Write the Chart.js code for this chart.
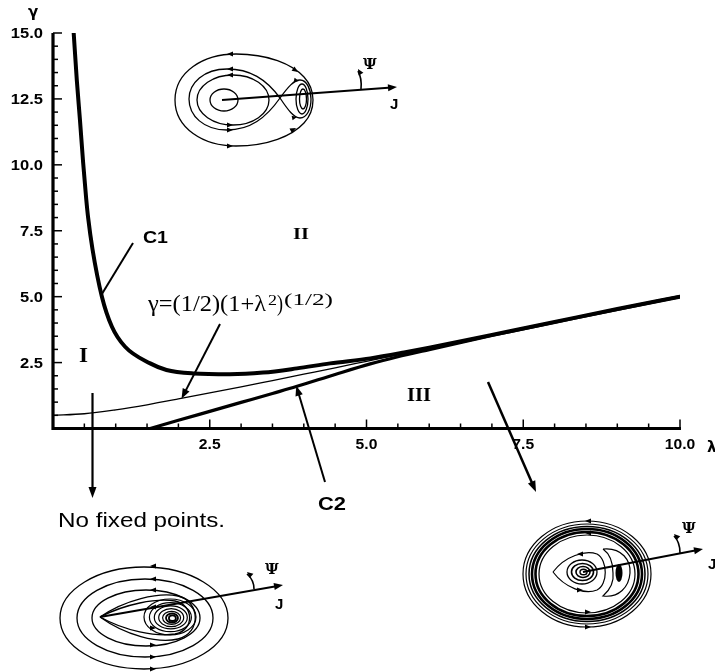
<!DOCTYPE html>
<html>
<head>
<meta charset="utf-8">
<script src="https://cdn.jsdelivr.net/npm/chart.js@4.4.1/dist/chart.umd.min.js"></script>
<style>
  html, body { margin: 0; padding: 0; background: #fff; }
  #wrap { width: 715px; height: 672px; }
</style>
</head>
<body>
<div id="wrap"><canvas id="phaseCanvas" width="715" height="672"></canvas></div>
<script>
// boundary C1 (lambda, gamma)
var c1Lambda = [0.33, 0.38, 0.43, 0.48, 0.53, 0.56, 0.63, 0.78, 0.94, 1.15, 1.55, 1.81, 2.24, 2.82, 3.35, 3.89, 4.42, 5.06, 5.6, 6.0, 7.0, 8.0, 9.0, 10.0];
var c1Gamma = [15.0, 13.2, 11.7, 10.1, 8.7, 8.0, 6.8, 5.0, 3.86, 3.10, 2.47, 2.22, 2.09, 2.06, 2.12, 2.28, 2.47, 2.66, 2.88, 3.06, 3.55, 4.04, 4.53, 5.0];

// boundary C2
var c2Lambda = [1.55, 2.0, 2.5, 3.0, 3.5, 3.88, 4.5, 5.06, 5.5, 6.0, 7.0, 8.0, 9.0, 10.0];
var c2Gamma = [0.0, 0.31, 0.65, 0.99, 1.33, 1.59, 2.05, 2.45, 2.72, 2.99, 3.53, 4.03, 4.52, 5.0];

// thin curve gamma = (1/2)(1+lambda^2)^(1/2)
var halfLambda = [0, 0.5, 1, 1.5, 2, 2.5, 3, 3.5, 4, 4.5, 5, 5.5, 6, 7, 8, 9, 10];
var halfGamma = [0.50, 0.56, 0.71, 0.90, 1.12, 1.35, 1.58, 1.82, 2.06, 2.30, 2.55, 2.80, 3.04, 3.54, 4.03, 4.53, 5.02];

var xTickLabels = [2.5, 5.0, 7.5, 10.0];
var yTickLabels = [2.5, 5.0, 7.5, 10.0, 12.5, 15.0];

function toPoints(xs, ys) {
  return xs.map(function (x, i) { return { x: x, y: ys[i] }; });
}

// --- small drawing helpers ---
function seg(ctx, x1, y1, x2, y2) {
  ctx.beginPath(); ctx.moveTo(x1, y1); ctx.lineTo(x2, y2); ctx.stroke();
}
function head(ctx, x, y, ang, len, half) {
  ctx.save();
  ctx.translate(x, y); ctx.rotate(ang);
  ctx.beginPath(); ctx.moveTo(0, 0); ctx.lineTo(-len, -half); ctx.lineTo(-len, half); ctx.closePath();
  ctx.fill();
  ctx.restore();
}
function arrow(ctx, x1, y1, x2, y2, w, len, half) {
  ctx.lineWidth = w;
  var ang = Math.atan2(y2 - y1, x2 - x1);
  seg(ctx, x1, y1, x2 - Math.cos(ang) * len * 0.6, y2 - Math.sin(ang) * len * 0.6);
  head(ctx, x2, y2, ang, len, half);
}
function ell(ctx, cx, cy, rx, ry, w) {
  if (w) ctx.lineWidth = w;
  ctx.beginPath(); ctx.ellipse(cx, cy, rx, ry, 0, 0, Math.PI * 2); ctx.stroke();
}
function flow(ctx, x, y, dir) {
  head(ctx, x + dir * 3, y, dir > 0 ? 0 : Math.PI, 6, 2.6);
}
function stretched(ctx, text, x, y, align, sx, font) {
  ctx.save();
  ctx.font = font; ctx.textAlign = 'left'; ctx.textBaseline = 'alphabetic';
  var w = ctx.measureText(text).width * sx;
  var x0 = align === 'center' ? x - w / 2 : (align === 'right' ? x - w : x);
  ctx.translate(x0, y); ctx.scale(sx, 1);
  ctx.fillText(text, 0, 0);
  ctx.restore();
}
function fitText(ctx, text, x, y, width, font) {
  ctx.save();
  ctx.font = font;
  var sx = width / ctx.measureText(text).width;
  ctx.restore();
  stretched(ctx, text, x, y, 'left', sx, font);
}
function psiStub(ctx, x1, y1, cx, cy, x2, y2) {
  ctx.lineWidth = 1.6;
  ctx.beginPath(); ctx.moveTo(x1, y1); ctx.quadraticCurveTo(cx, cy, x2, y2); ctx.stroke();
  head(ctx, x2, y2 - 2, Math.atan2(y2 - cy, x2 - cx), 6, 2.8);
}
function axisLabels(ctx, psiX, psiY, jX, jY) {
  stretched(ctx, 'Ψ', psiX, psiY, 'left', 1, 'bold 15px "DejaVu Serif"');
  stretched(ctx, 'J', jX, jY, 'left', 1, 'bold 15px "Liberation Sans"');
}

// phase portrait above region II
function topPortrait(ctx) {
  ctx.lineWidth = 1.3;
  ctx.beginPath();
  ctx.moveTo(175, 100);
  ctx.bezierCurveTo(175, 72, 203, 54, 236, 54);
  ctx.bezierCurveTo(268, 54, 292, 64, 304, 77);
  ctx.bezierCurveTo(316, 90, 316, 110, 304, 123);
  ctx.bezierCurveTo(292, 136, 268, 146, 236, 146);
  ctx.bezierCurveTo(203, 146, 175, 128, 175, 100);
  ctx.stroke();
  // separatrix
  ctx.beginPath();
  ctx.moveTo(280, 98);
  ctx.bezierCurveTo(266, 79, 250, 69, 227, 69);
  ctx.bezierCurveTo(204, 69, 189, 83, 189, 99);
  ctx.bezierCurveTo(189, 116, 204, 130, 227, 130);
  ctx.bezierCurveTo(250, 130, 266, 118, 280, 98);
  ctx.bezierCurveTo(288, 87, 294, 80, 300, 80);
  ctx.bezierCurveTo(307, 80, 311, 90, 311, 99);
  ctx.bezierCurveTo(311, 109, 307, 118, 300, 118);
  ctx.bezierCurveTo(294, 118, 288, 110, 280, 98);
  ctx.stroke();
  ell(ctx, 233, 100, 36, 25, 1.3);
  ell(ctx, 224, 100, 14, 11, 1.3);
  ell(ctx, 302, 99, 6, 15, 1.3);
  ell(ctx, 303, 99, 3.5, 10, 1.3);
  [54, 69, 75].forEach(function (y) { flow(ctx, 230, y, -1); });
  [125, 130, 146].forEach(function (y) { flow(ctx, 230, y, 1); });
  head(ctx, 298, 72, 0.6, 6, 2.6);
  head(ctx, 296, 128, -0.5, 6, 2.6);
  head(ctx, 299, 81, 0.2, 5, 2.4);
  head(ctx, 297, 117, -0.2, 5, 2.4);
  arrow(ctx, 222, 100, 397, 87, 2, 9, 3.5);
  psiStub(ctx, 361, 89, 362, 78, 358, 71);
  axisLabels(ctx, 363, 69, 390, 109);
}

// phase portrait for region I
function leftPortrait(ctx) {
  ell(ctx, 144, 618, 84, 51, 1.3);
  ell(ctx, 145, 618, 68, 39, 1.3);
  ell(ctx, 146, 618, 54, 28, 1.3);
  ctx.beginPath();
  ctx.moveTo(100, 617);
  ctx.bezierCurveTo(125, 600, 158, 592, 178, 596);
  ctx.bezierCurveTo(200, 601, 202, 633, 178, 639);
  ctx.bezierCurveTo(158, 644, 125, 635, 100, 617);
  ctx.stroke();
  ctx.beginPath();
  ctx.moveTo(100, 617);
  ctx.bezierCurveTo(125, 604, 156, 598, 175, 601);
  ctx.bezierCurveTo(194, 605, 195, 630, 175, 634);
  ctx.bezierCurveTo(156, 637, 125, 631, 100, 617);
  ctx.stroke();
  [[26, 18], [21, 14.5], [16.5, 11.5], [12.5, 9], [9, 6.5], [6, 4.5], [3.5, 2.8]].forEach(function (r, i) {
    ell(ctx, 170 + i * 0.4, 617 + i * 0.2, r[0], r[1], i > 4 ? 1.8 : 1.2);
  });
  [566, 579, 590, 607].forEach(function (y) { flow(ctx, 153, y, -1); });
  [628, 645, 657, 669].forEach(function (y) { flow(ctx, 153, y, 1); });
  arrow(ctx, 100, 617, 283, 585, 2, 9, 3.5);
  psiStub(ctx, 254, 589, 254, 580, 247, 574);
  axisLabels(ctx, 265, 574, 275, 609);
}

// phase portrait for region III
function rightPortrait(ctx) {
  [[64, 53, 1.2], [61, 50, 1.2], [58, 47.5, 1.5], [55, 45, 2.6], [51.5, 42, 2.6], [48, 39, 1.2]].forEach(function (r) {
    ell(ctx, 587, 574, r[0], r[1], r[2]);
  });
  ctx.lineWidth = 1.2;
  ctx.beginPath();
  ctx.moveTo(553, 572);
  ctx.bezierCurveTo(565, 556, 585, 550, 597, 554);
  ctx.bezierCurveTo(608, 560, 608, 585, 597, 590);
  ctx.bezierCurveTo(585, 595, 565, 588, 553, 572);
  ctx.stroke();
  // crescent
  ctx.beginPath();
  ctx.moveTo(603, 549);
  ctx.bezierCurveTo(622, 547, 631, 561, 630, 573);
  ctx.bezierCurveTo(629, 587, 619, 598, 603, 596);
  ctx.bezierCurveTo(611, 589, 614, 581, 613, 573);
  ctx.bezierCurveTo(613, 563, 610, 554, 603, 549);
  ctx.stroke();
  ctx.beginPath(); ctx.ellipse(619, 573, 3.5, 9, 0, 0, Math.PI * 2); ctx.fill();
  [[15, 12, 1.3], [11, 8.5, 1.6], [7, 5.5, 1.6], [3.5, 2.8, 1.4]].forEach(function (r, i) {
    ell(ctx, 582 + i * 0.5, 572, r[0], r[1], r[2]);
  });
  [[588, 521], [588, 533], [580, 554]].forEach(function (p) { flow(ctx, p[0], p[1], -1); });
  [[580, 590], [588, 612], [588, 627]].forEach(function (p) { flow(ctx, p[0], p[1], 1); });
  arrow(ctx, 583, 572, 703, 549, 2, 9, 3.5);
  psiStub(ctx, 680, 553, 680, 542, 674, 536);
  axisLabels(ctx, 682, 533, 708, 569);
}

var frame = {
  id: 'frame',
  afterDraw: function (chart) {
    var ctx = chart.ctx, xs = chart.scales.x, ys = chart.scales.y, a = chart.chartArea;
    ctx.save();
    ctx.strokeStyle = '#000'; ctx.fillStyle = '#000';
    ctx.lineCap = 'butt';

    // axes
    ctx.lineWidth = 3.2;
    ctx.beginPath(); ctx.moveTo(a.left, a.top); ctx.lineTo(a.left, a.bottom); ctx.lineTo(a.right + 1, a.bottom); ctx.stroke();

    // inward ticks, minor every 0.5
    ctx.lineWidth = 1.5;
    var i, px, big;
    for (i = 1; i <= 20; i++) {
      px = xs.getPixelForValue(i * 0.5); big = i % 5 === 0;
      seg(ctx, px, a.bottom, px, a.bottom - (big ? 9 : 5));
    }
    for (i = 1; i <= 30; i++) {
      px = ys.getPixelForValue(i * 0.5); big = i % 5 === 0;
      seg(ctx, a.left, px, a.left + (big ? 9 : 5), px);
    }

    // tick labels
    xTickLabels.forEach(function (v) {
      stretched(ctx, v.toFixed(1), xs.getPixelForValue(v), a.bottom + 20, 'center', 1.12, 'bold 14px "Liberation Sans"');
    });
    yTickLabels.forEach(function (v) {
      stretched(ctx, v.toFixed(1), a.left - 10, ys.getPixelForValue(v) + 5, 'right', 1.18, 'bold 14px "Liberation Sans"');
    });
    stretched(ctx, 'γ', 33, 17, 'center', 1, 'bold 15px "DejaVu Sans"');
    stretched(ctx, 'λ', 707, 452, 'left', 1, 'bold 15px "DejaVu Sans"');

    // region and curve labels
    fitText(ctx, 'I', 79, 362, 9, 'bold 20px "Liberation Serif"');
    fitText(ctx, 'II', 293, 239, 16, 'bold 17px "Liberation Serif"');
    fitText(ctx, 'III', 407, 401, 24, 'bold 19px "Liberation Serif"');
    fitText(ctx, 'C1', 143, 243, 25, 'bold 16px "Liberation Sans"');
    fitText(ctx, 'C2', 318, 510, 28, 'bold 19px "Liberation Sans"');

    // formula label
    fitText(ctx, 'γ=(1/2)(1+λ', 148, 311, 118, '23px "Liberation Serif"');
    fitText(ctx, '2', 268, 305, 9, '15px "Liberation Serif"');
    fitText(ctx, ')', 277, 311, 6, '23px "Liberation Serif"');
    fitText(ctx, '(1/2)', 284, 305, 49, '17px "Liberation Serif"');

    // pointers
    ctx.lineWidth = 2;
    seg(ctx, 133, 243, xs.getPixelForValue(0.78), ys.getPixelForValue(5.1));
    arrow(ctx, 220, 324, xs.getPixelForValue(2.05), ys.getPixelForValue(1.13), 2, 10, 3.8);
    arrow(ctx, 325, 482, xs.getPixelForValue(3.88), ys.getPixelForValue(1.62), 2, 10, 3.8);
    arrow(ctx, xs.getPixelForValue(0.63), 393, xs.getPixelForValue(0.63), 498, 2.2, 11, 4);
    arrow(ctx, 488, 382, 536, 492, 2.5, 11, 4);

    fitText(ctx, 'No fixed points.', 58, 527, 167, '21px "Liberation Sans"');

    topPortrait(ctx);
    leftPortrait(ctx);
    rightPortrait(ctx);
    ctx.restore();
  }
};

var common = { showLine: true, pointRadius: 0, borderColor: '#000', borderCapStyle: 'round', borderJoinStyle: 'round', fill: false };

new Chart(document.getElementById('phaseCanvas'), {
  type: 'scatter',
  data: {
    datasets: [
      Object.assign({ label: 'C1', data: toPoints(c1Lambda, c1Gamma), borderWidth: 4, cubicInterpolationMode: 'monotone' }, common),
      Object.assign({ label: 'half', data: toPoints(halfLambda, halfGamma), borderWidth: 1.3, cubicInterpolationMode: 'monotone' }, common),
      Object.assign({ label: 'C2', data: toPoints(c2Lambda, c2Gamma), borderWidth: 3.2, cubicInterpolationMode: 'monotone' }, common)
    ]
  },
  options: {
    responsive: false,
    animation: false,
    devicePixelRatio: 1,
    layout: { padding: { left: 53, right: 35, top: 33, bottom: 243.5 } },
    plugins: { legend: { display: false }, tooltip: { enabled: false } },
    scales: {
      x: { type: 'linear', min: 0, max: 10, display: false },
      y: { type: 'linear', min: 0, max: 15, display: false }
    }
  },
  plugins: [frame]
});
</script>
</body>
</html>
